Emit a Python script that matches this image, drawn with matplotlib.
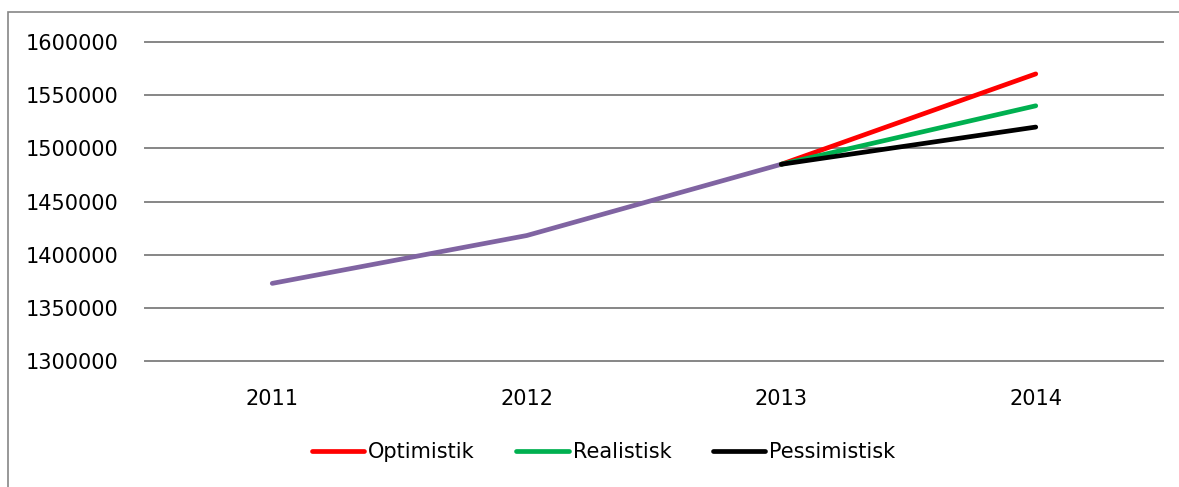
import matplotlib
matplotlib.use('Agg')
import matplotlib.pyplot as plt
import matplotlib.patches as patches
import numpy as np

years = ['2011', '2012', '2013', '2014']

historic = [1373000, 1418000, 1485000, np.nan]
optimistik = [np.nan, np.nan, 1485000, 1570000]
realistisk = [np.nan, np.nan, 1485000, 1540000]
pessimistisk = [np.nan, np.nan, 1485000, 1520000]

yticks = [1300000, 1350000, 1400000, 1450000, 1500000, 1550000, 1600000]

plt.rcParams['font.family'] = ['DejaVu Sans']

fig = plt.figure(figsize=(11.79, 4.87), dpi=100)
ax = fig.add_axes([145/1179., 1-361/487., (1163-145)/1179., (361-42)/487.])

x = np.arange(len(years))

ax.plot(x, historic, color='#8064A2', linewidth=3.4, solid_capstyle='round', zorder=2)
ax.plot(x, optimistik, color='#FF0000', linewidth=3.4, solid_capstyle='round', label='Optimistik', zorder=3)
ax.plot(x, realistisk, color='#00B050', linewidth=3.4, solid_capstyle='round', label='Realistisk', zorder=3)
ax.plot(x, pessimistisk, color='#000000', linewidth=3.4, solid_capstyle='round', label='Pessimistisk', zorder=3)

ax.set_xlim(-0.5, len(years)-0.5)
ax.set_ylim(1300000, 1600000)
ax.set_xticks(x)
ax.set_xticklabels(years)
ax.set_yticks(yticks)
ax.set_yticklabels([str(v) for v in yticks])
ax.tick_params(axis='both', length=0, labelsize=15)
ax.tick_params(axis='y', pad=19)
ax.tick_params(axis='x', pad=20)
ax.grid(axis='y', color='#868686', linewidth=1.4)
for gl in ax.get_ygridlines():
	gl.set_clip_on(False)
ax.set_axisbelow(True)
for s in ax.spines.values():
	s.set_visible(False)

fig.legend(loc='center', bbox_to_anchor=(0.512, 1-452/487.), ncol=3, frameon=False,
	fontsize=15, handlelength=2.5, handletextpad=0.2, columnspacing=2.0)

border = patches.Rectangle((8/1179., -0.05), 1.2, 1-12/487.+0.05, transform=fig.transFigure,
	fill=False, edgecolor='#868686', linewidth=1.2)
fig.patches.append(border)

fig.savefig('out.png', dpi=100)
